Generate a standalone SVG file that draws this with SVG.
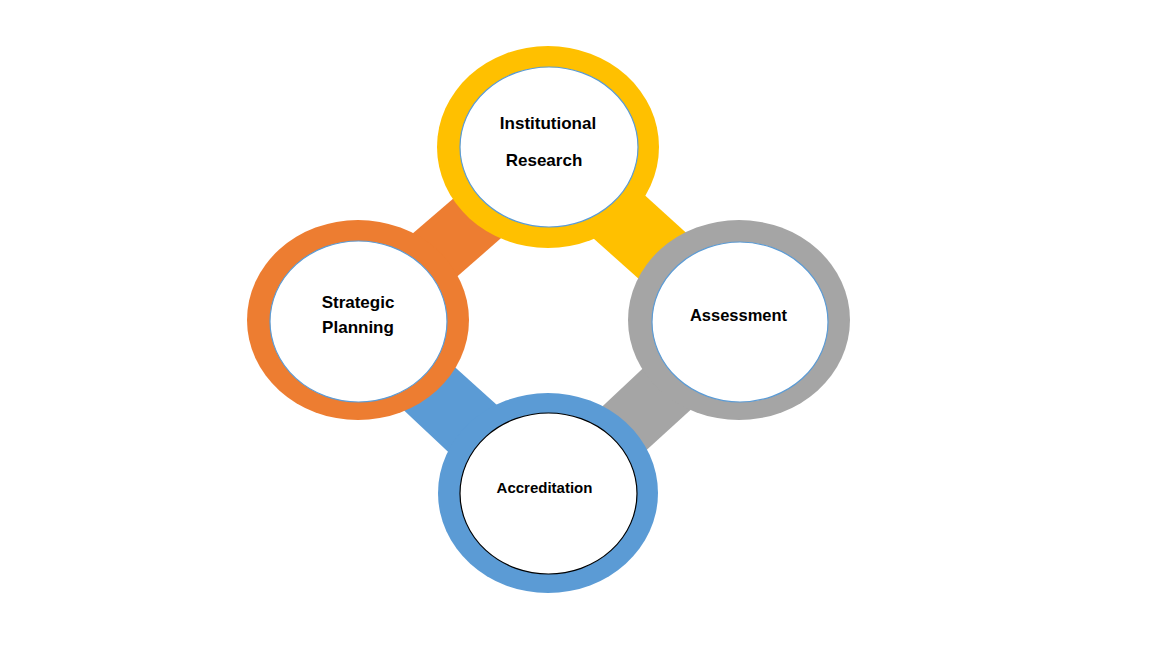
<svg xmlns="http://www.w3.org/2000/svg" width="1152" height="648" viewBox="0 0 1152 648">
<style>
.inner{fill:#ffffff;stroke:#5B9BD5;stroke-width:1.2}
.innerb{fill:#ffffff;stroke:#000000;stroke-width:1.2}
.lbl{font-family:"Liberation Sans",Arial,sans-serif;font-weight:bold;font-size:17px;fill:#000000;text-anchor:middle}
</style>
<rect width="1152" height="648" fill="#ffffff"/>
<g id="connectors">
<polygon points="383,259 483,173 531,212 428,302" fill="#ED7D31"/>
<polygon points="617,170 715,259 668,305 565,213" fill="#FFC000"/>
<polygon points="573,434 672,341 719,384 618,476" fill="#A5A5A5"/>
<polygon points="427,342 527,432 477,479 378,386" fill="#5B9BD5"/>
</g>
<g id="institutional-research">
<ellipse cx="548" cy="147" rx="111" ry="101" fill="#FFC000"/>
<ellipse class="inner" cx="549" cy="147" rx="89" ry="80"/>
<text class="lbl" x="548" y="129">Institutional</text>
<text class="lbl" x="544" y="166">Research</text>
</g>
<g id="strategic-planning">
<ellipse cx="358" cy="320" rx="111" ry="100" fill="#ED7D31"/>
<ellipse class="inner" cx="358.5" cy="321.5" rx="88.5" ry="80.5"/>
<text class="lbl" x="358" y="308">Strategic</text>
<text class="lbl" x="358" y="333">Planning</text>
</g>
<g id="assessment">
<ellipse cx="739" cy="320" rx="111" ry="100" fill="#A5A5A5"/>
<ellipse class="inner" cx="740" cy="322" rx="88" ry="80"/>
<text class="lbl" x="738.5" y="321" style="font-size:16.5px">Assessment</text>
</g>
<g id="accreditation">
<ellipse cx="548" cy="493" rx="110" ry="100" fill="#5B9BD5"/>
<ellipse class="innerb" cx="548.5" cy="493.5" rx="88.5" ry="80.5"/>
<text class="lbl" x="544.5" y="493" style="font-size:15px">Accreditation</text>
</g>
</svg>
